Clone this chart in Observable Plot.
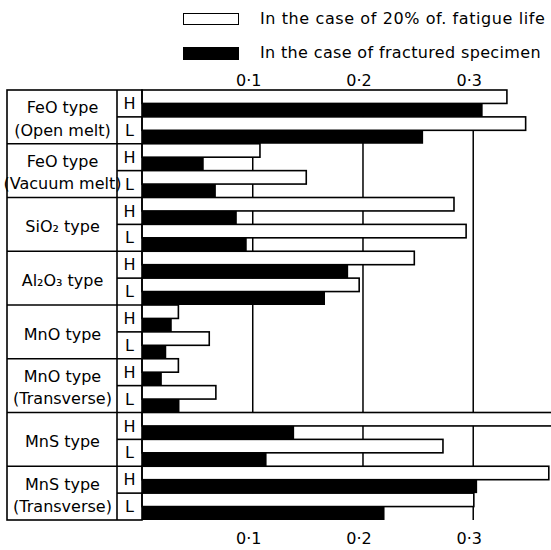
<!DOCTYPE html>
<html>
<head>
<meta charset="utf-8">
<script src="https://cdn.jsdelivr.net/npm/d3@7"></script>
<script src="https://cdn.jsdelivr.net/npm/@observablehq/plot@0.6"></script>
<style>
  body { margin: 0; background: #fff; font-family: "DejaVu Sans", sans-serif; }
  #legend { position: relative; width: 551px; height: 62px; }
  .sw { position: absolute; left: 183px; width: 56px; height: 12px; box-sizing: border-box; border: 1.5px solid #000; }
  .lt { position: absolute; left: 260px; font-size: 16px; letter-spacing: 0.6px; line-height: 18px; color: #000; white-space: nowrap; }
</style>
</head>
<body>
<div id="legend"></div>
<div id="chart"></div>
<script>
// ---- data ----
const groups = ["FeO type\n(Open melt)", "FeO type\n(Vacuum melt)", "SiO\u2082 type", "Al\u2082O\u2083 type",
                "MnO type", "MnO type\n(Transverse)", "MnS type", "MnS type\n(Transverse)"];
const levels = ["H", "L"];
const seriesNames = ["In the case of 20% of. fatigue life", "In the case of fractured specimen"];
// value per row: groups x levels (H, L)
const fatigue20 = [0.331, 0.348, 0.107, 0.149, 0.283, 0.294, 0.247, 0.197,
                   0.033, 0.061, 0.033, 0.067, 0.375, 0.273, 0.369, 0.301];
const fractured = [0.309, 0.255, 0.056, 0.067, 0.086, 0.095, 0.187, 0.166,
                   0.027, 0.022, 0.018, 0.034, 0.138, 0.113, 0.304, 0.220];
const tickValues = [0.1, 0.2, 0.3];
const tickLabels = ["0\u00b71", "0\u00b72", "0\u00b73"];

// ---- legend ----
const legend = document.getElementById("legend");
legend.innerHTML = `
  <div class="sw" style="top:13px;background:#fff"></div>
  <div class="lt" style="top:10px">${seriesNames[0]}</div>
  <div class="sw" style="top:47px;height:13px;background:#000"></div>
  <div class="lt" style="top:44px;letter-spacing:0.35px">${seriesNames[1]}</div>`;

// ---- table built from arrays ----
const rows = [];
groups.forEach((g, gi) => levels.forEach((lv, li) => {
  const i = gi * 2 + li;
  rows.push({group: g, level: lv, i, white: fatigue20[i], black: fractured[i]});
}));
const groupRows = groups.map((g, gi) => ({group: g, center: gi * 2 + 1}));

const W = 551, H = 488, mL = 142, mT = 28, mB = 30;
const nRows = rows.length;

function labelTable(index, scales, values, dims) {
  const y = scales.y;
  const g = d3.create("svg:g").attr("fill", "none").attr("stroke", "#000").attr("stroke-width", 1.6);
  const x0 = 7, xDiv = 117, xR = dims.marginLeft;
  g.append("rect").attr("x", x0).attr("y", y(0)).attr("width", xR - x0).attr("height", y(nRows) - y(0));
  g.append("line").attr("x1", xDiv).attr("x2", xDiv).attr("y1", y(0)).attr("y2", y(nRows));
  for (let k = 1; k < groups.length; k++) {
    g.append("line").attr("x1", x0).attr("x2", xR).attr("y1", y(2 * k)).attr("y2", y(2 * k));
  }
  for (let k = 0; k < groups.length; k++) {
    g.append("line").attr("x1", xDiv).attr("x2", xR).attr("y1", y(2 * k + 1)).attr("y2", y(2 * k + 1));
  }
  return g.node();
}

const chart = Plot.plot({
  width: W, height: H,
  marginLeft: mL, marginRight: 0, marginTop: mT, marginBottom: mB,
  style: {fontFamily: "DejaVu Sans, sans-serif", fontSize: "16px", color: "#000", background: "#fff"},
  x: {domain: [0, 0.371]},
  y: {domain: [0, nRows], reverse: true, axis: null},
  marks: [
    Plot.ruleX(tickValues, {stroke: "#000", strokeWidth: 1.5, y1: 0, y2: nRows}),
    Plot.rectX(rows, {x1: 0, x2: "white", y1: d => d.i, y2: d => d.i + 0.5, fill: "#fff", stroke: "#000", strokeWidth: 1.6}),
    Plot.rectX(rows, {x1: 0, x2: "black", y1: d => d.i + 0.5, y2: d => d.i + 1, fill: "#000"}),
    Plot.axisX({anchor: "top", ticks: tickValues, tickSize: 0, tickPadding: 5, dx: -4,
                tickFormat: (d, k) => tickLabels[k], fontSize: 16}),
    Plot.axisX({anchor: "bottom", ticks: tickValues, tickSize: 0, tickPadding: 12, dx: -4,
                tickFormat: (d, k) => tickLabels[k], fontSize: 16}),
    labelTable,
    Plot.text(groupRows, {y: "center", text: "group", frameAnchor: "left", dx: -80,
                          textAnchor: "middle", fontSize: 16, lineHeight: 1.4, fill: "#000"}),
    Plot.text(rows, {y: d => d.i + 0.5, text: "level", frameAnchor: "left", dx: -13,
                     textAnchor: "middle", fontSize: 16, fill: "#000"})
  ]
});
document.getElementById("chart").appendChild(chart);
</script>
</body>
</html>
